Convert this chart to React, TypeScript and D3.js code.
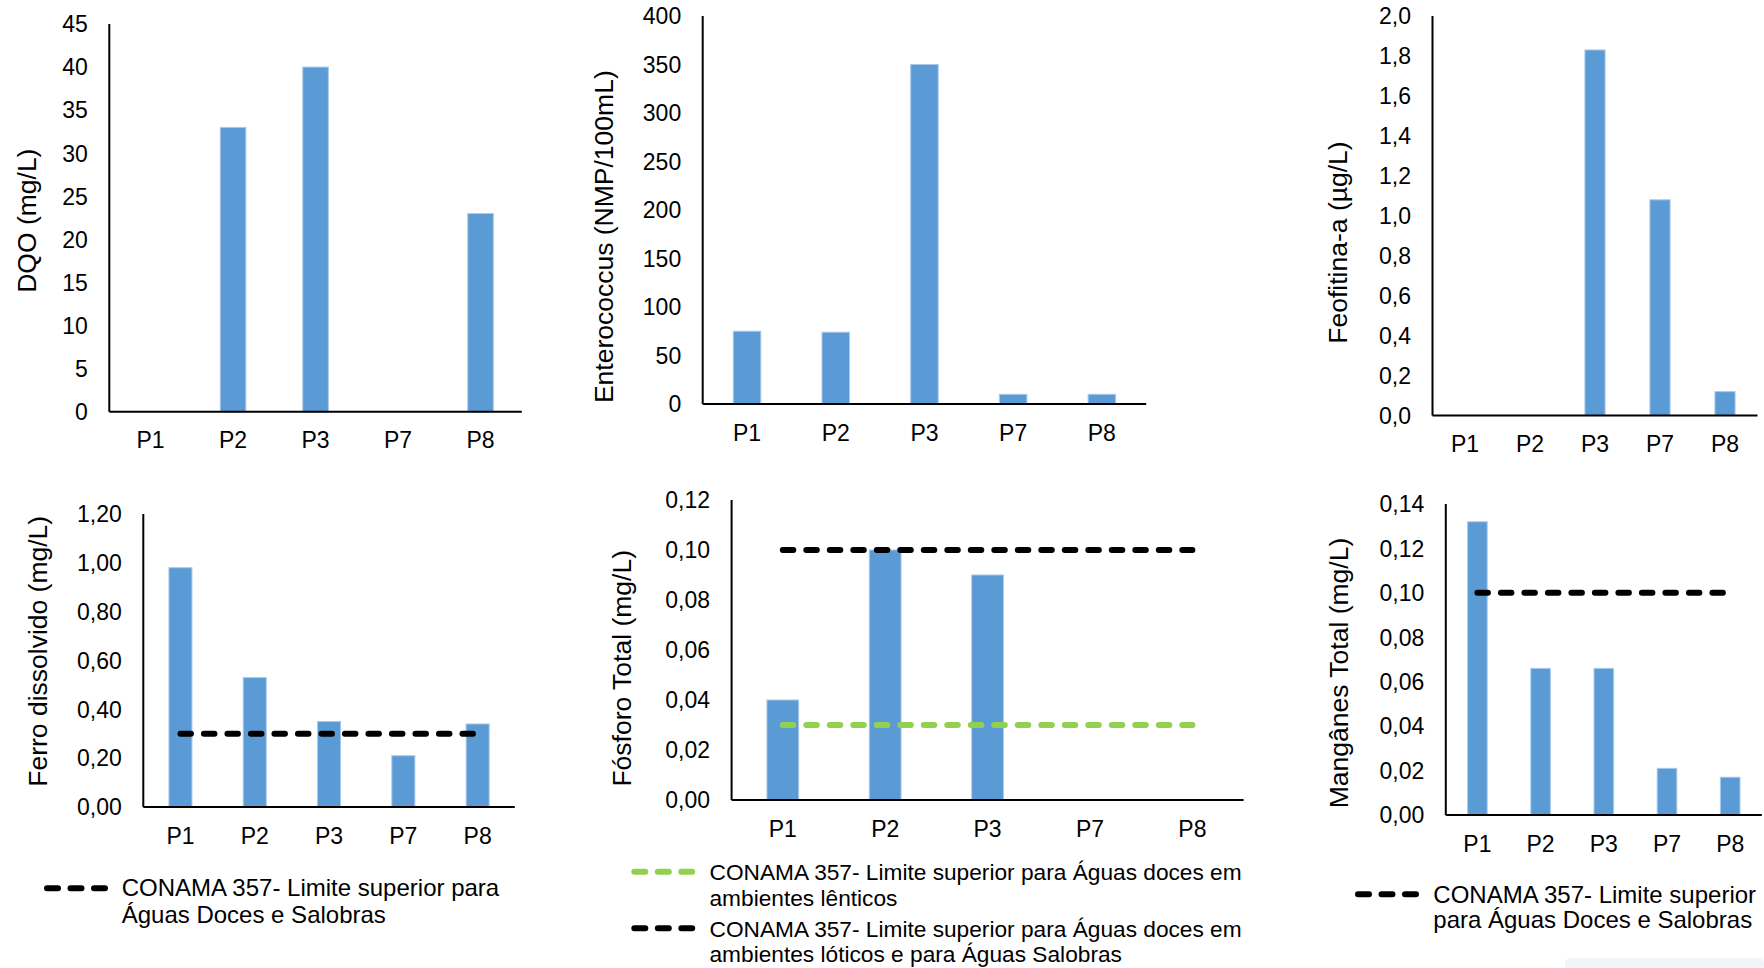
import React from "react";
import * as d3 from "d3";

// ---------- DATA ----------
const categories = ["P1", "P2", "P3", "P7", "P8"];

const dqoValues: (number | null)[] = [null, 33, 40, null, 23];
const dqoTicks = [0, 5, 10, 15, 20, 25, 30, 35, 40, 45];

const enterococcusValues: (number | null)[] = [75, 74, 350, 10, 10];
const enterococcusTicks = [0, 50, 100, 150, 200, 250, 300, 350, 400];

const feofitinaValues: (number | null)[] = [null, null, 1.83, 1.08, 0.12];
const feofitinaTicks = [0, 0.2, 0.4, 0.6, 0.8, 1.0, 1.2, 1.4, 1.6, 1.8, 2.0];

const ferroValues: (number | null)[] = [0.98, 0.53, 0.35, 0.21, 0.34];
const ferroLimit = [0.3, 0.3, 0.3, 0.3, 0.3];
const ferroTicks = [0, 0.2, 0.4, 0.6, 0.8, 1.0, 1.2];

const fosforoValues: (number | null)[] = [0.04, 0.1, 0.09, null, null];
const fosforoLimitLentico = [0.03, 0.03, 0.03, 0.03, 0.03];
const fosforoLimitLotico = [0.1, 0.1, 0.1, 0.1, 0.1];
const fosforoTicks = [0, 0.02, 0.04, 0.06, 0.08, 0.1, 0.12];

const manganesValues: (number | null)[] = [0.132, 0.066, 0.066, 0.021, 0.017];
const manganesLimit = [0.1, 0.1, 0.1, 0.1, 0.1];
const manganesTicks = [0, 0.02, 0.04, 0.06, 0.08, 0.1, 0.12, 0.14];

const legendSalobras = ["CONAMA 357- Limite superior para", "Águas Doces e Salobras"];
const legendLentico = ["CONAMA 357- Limite superior para Águas doces em", "ambientes lênticos"];
const legendLotico = ["CONAMA 357- Limite superior para Águas doces em", "ambientes lóticos e para Águas Salobras"];
const legendSalobras2 = ["CONAMA 357- Limite superior", "para Águas Doces e Salobras"];

// ---------- STYLE ----------
const FONT = "'Liberation Sans', Arial, sans-serif";
const BAR = "#5B9BD5";
const BAR_EDGE = "#A9C8EA";
const BLACK = "#000000";
const GREEN = "#92D050";

type LineSpec = { values: number[]; color: string };

type PanelSpec = {
  title: string;
  values: (number | null)[];
  ticks: number[];
  decimals: number;
  x0: number;
  x1: number;
  yTop: number;
  yBottom: number;
  titleX: number;
  titleY: number;
  lines: LineSpec[];
};

const fmt = (d: number, dec: number) => d.toFixed(dec).replace(".", ",");

const panels: PanelSpec[] = [
  { title: "DQO (mg/L)", values: dqoValues, ticks: dqoTicks, decimals: 0, x0: 109.3, x1: 521.8, yTop: 24, yBottom: 411.7, titleX: 36, titleY: 220.7, lines: [] },
  { title: "Enterococcus (NMP/100mL)", values: enterococcusValues, ticks: enterococcusTicks, decimals: 0, x0: 702.7, x1: 1146.2, yTop: 16, yBottom: 404, titleX: 613.3, titleY: 236.7, lines: [] },
  { title: "Feofitina-a (µg/L)", values: feofitinaValues, ticks: feofitinaTicks, decimals: 1, x0: 1432.5, x1: 1757.5, yTop: 16, yBottom: 415.6, titleX: 1346.9, titleY: 242.5, lines: [] },
  { title: "Ferro dissolvido (mg/L)", values: ferroValues, ticks: ferroTicks, decimals: 2, x0: 143.3, x1: 514.8, yTop: 514, yBottom: 807, titleX: 46.7, titleY: 651.3, lines: [{ values: ferroLimit, color: BLACK }] },
  { title: "Fósforo Total (mg/L)", values: fosforoValues, ticks: fosforoTicks, decimals: 2, x0: 731.6, x1: 1243.6, yTop: 500, yBottom: 800, titleX: 630.6, titleY: 668.3, lines: [{ values: fosforoLimitLotico, color: BLACK }, { values: fosforoLimitLentico, color: GREEN }] },
  { title: "Mangânes Total (mg/L)", values: manganesValues, ticks: manganesTicks, decimals: 2, x0: 1445.8, x1: 1761.8, yTop: 504, yBottom: 815, titleX: 1348, titleY: 673, lines: [{ values: manganesLimit, color: BLACK }] },
];

type LegendItem = { lines: string[]; color: string; sx0: number; sx1: number; sy: number; tx: number; baselines: number[]; size: number };

const legends: LegendItem[] = [
  { lines: legendSalobras, color: BLACK, sx0: 47, sx1: 105.3, sy: 888.3, tx: 121.7, baselines: [896, 923], size: 24 },
  { lines: legendLentico, color: GREEN, sx0: 634.3, sx1: 692.2, sy: 871.7, tx: 709.5, baselines: [880, 905.5], size: 22.7 },
  { lines: legendLotico, color: BLACK, sx0: 634.3, sx1: 692.2, sy: 928.3, tx: 709.5, baselines: [936.7, 962], size: 22.7 },
  { lines: legendSalobras2, color: BLACK, sx0: 1358, sx1: 1416.3, sy: 894.3, tx: 1433.3, baselines: [902.7, 928.3], size: 24 },
];

function Panel({ p }: { p: PanelSpec }) {
  const x = d3.scaleBand<string>().domain(categories).range([p.x0, p.x1]).paddingInner(0.69).paddingOuter(0.345);
  const yMax = p.ticks[p.ticks.length - 1];
  const y = d3.scaleLinear().domain([0, yMax]).range([p.yBottom, p.yTop]);
  const lineGen = d3
    .line<number>()
    .x((_, i) => (x(categories[i]) as number) + x.bandwidth() / 2)
    .y((d) => y(d));
  return (
    <g>
      {p.values.map((v, i) =>
        v == null ? null : (
          <rect
            key={i}
            x={x(categories[i])}
            y={y(v)}
            width={x.bandwidth()}
            height={y(0) - y(v)}
            fill={BAR}
            stroke={BAR_EDGE}
            strokeWidth={1}
          />
        )
      )}
      {p.lines.map((l, i) => (
        <path
          key={i}
          d={lineGen(l.values) || ""}
          fill="none"
          stroke={l.color}
          strokeWidth={6}
          strokeLinecap="round"
          strokeDasharray="10.5 13"
        />
      ))}
      <line x1={p.x0} x2={p.x0} y1={p.yTop} y2={p.yBottom} stroke={BLACK} strokeWidth={2} />
      <line x1={p.x0} x2={p.x1} y1={p.yBottom} y2={p.yBottom} stroke={BLACK} strokeWidth={2} />
      {p.ticks.map((t) => (
        <text key={t} x={p.x0 - 21.5} y={y(t)} dy="0.36em" textAnchor="end" fontSize={23} fontFamily={FONT} fill={BLACK}>
          {fmt(t, p.decimals)}
        </text>
      ))}
      {categories.map((c) => (
        <text key={c} x={(x(c) as number) + x.bandwidth() / 2} y={p.yBottom + 36.5} textAnchor="middle" fontSize={23} fontFamily={FONT} fill={BLACK}>
          {c}
        </text>
      ))}
      <text
        transform={`translate(${p.titleX},${p.titleY}) rotate(-90)`}
        textAnchor="middle"
        fontSize={26.5}
        fontFamily={FONT}
        fill={BLACK}
      >
        {p.title}
      </text>
    </g>
  );
}

export default function App() {
  React.useEffect(() => {
    document.body.style.margin = "0";
  }, []);
  return (
    <svg width={1764} height={968} style={{ position: "absolute", left: 0, top: 0, background: "#fff" }}>
      <rect x={0} y={0} width={1764} height={968} fill="#fff" />
      {panels.map((p, i) => (
        <Panel key={i} p={p} />
      ))}
      {legends.map((l, i) => (
        <g key={i}>
          <line
            x1={l.sx0}
            x2={l.sx1}
            y1={l.sy}
            y2={l.sy}
            stroke={l.color}
            strokeWidth={6}
            strokeLinecap="round"
            strokeDasharray="11 12.5"
          />
          {l.lines.map((t, j) => (
            <text key={j} x={l.tx} y={l.baselines[j]} fontSize={l.size} fontFamily={FONT} fill={BLACK}>
              {t}
            </text>
          ))}
        </g>
      ))}
      <rect x={1565} y={958} width={199} height={14} rx={5} fill="#F1F5F9" />
    </svg>
  );
}
